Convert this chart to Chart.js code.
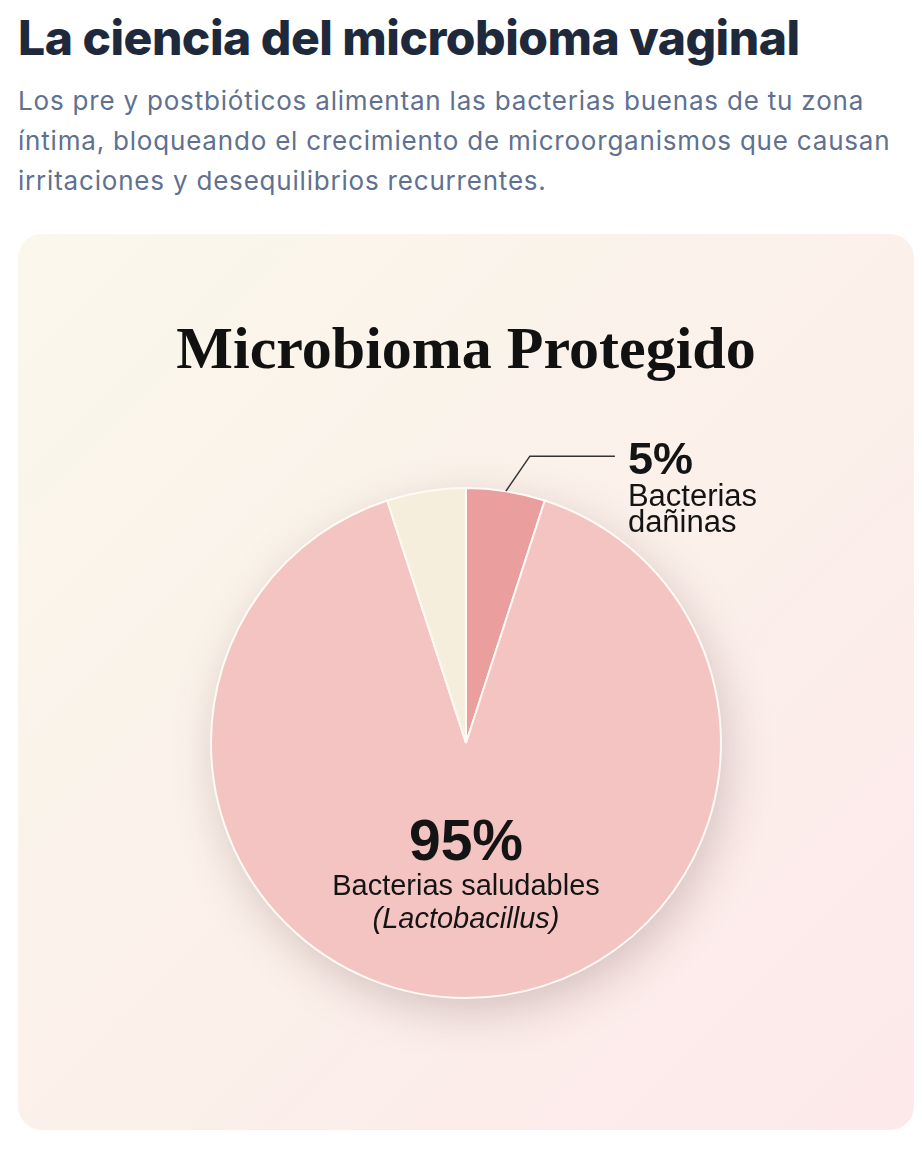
<!DOCTYPE html>
<html><head><meta charset="utf-8">
<script src="https://cdn.jsdelivr.net/npm/chart.js@4.4.1/dist/chart.umd.min.js"></script>
<style>
html,body{margin:0;padding:0;background:#fff;width:922px;height:1158px;overflow:hidden;}
h1{position:absolute;left:18px;top:10px;margin:0;font-family:Inter,sans-serif;font-weight:800;font-size:48px;line-height:56px;color:#1e293b;letter-spacing:-0.5px;white-space:nowrap;}
p.sub{position:absolute;left:18px;top:80.5px;margin:0;font-family:Inter,sans-serif;font-size:26px;line-height:40px;color:#607090;letter-spacing:0.8px;white-space:nowrap;}
#card{position:absolute;left:18px;top:234px;width:896px;height:896px;border-radius:24px;background:linear-gradient(135deg,#faf7ec 0%,#fbf1ea 50%,#fde8ea 100%);overflow:hidden;}
canvas{display:block}
</style></head>
<body>
<h1>La ciencia del microbioma vaginal</h1>
<p class="sub">Los pre y postbióticos alimentan las bacterias buenas de tu zona<br>íntima, bloqueando el crecimiento de microorganismos que causan<br>irritaciones y desequilibrios recurrentes.</p>
<div id="card"><canvas id="c" width="896" height="896"></canvas></div>
<script>
const chartTitle = 'Microbioma Protegido';
const categories = ['Bacterias dañinas', 'Bacterias saludables', 'Otros'];
const values = [5, 90, 5];
const pctLabels = ['5%', '95%'];
const labelLines = [['Bacterias', 'dañinas'], ['Bacterias saludables', '(Lactobacillus)']];
const sliceColors = ['#eb9e9e', '#f3c4c1', '#f6eedc'];

const pieShadow = {
  id: 'pieShadow',
  beforeDatasetsDraw(chart) {
    const arc = chart.getDatasetMeta(0).data[0];
    const ctx = chart.ctx;
    ctx.save();
    ctx.shadowColor = 'rgba(110,70,70,0.26)';
    ctx.shadowBlur = 45; ctx.shadowOffsetX = 6; ctx.shadowOffsetY = 14;
    ctx.fillStyle = sliceColors[1];
    ctx.beginPath(); ctx.arc(arc.x, arc.y, arc.outerRadius, 0, Math.PI * 2); ctx.fill();
    ctx.restore();
  }
};

const sliceLabels = {
  id: 'sliceLabels',
  afterDatasetsDraw(chart) {
    const ctx = chart.ctx;
    const meta = chart.getDatasetMeta(0);
    const a0 = meta.data[0];
    const m0 = (a0.startAngle + a0.endAngle) / 2;
    const r = a0.outerRadius;
    const px = a0.x + Math.cos(m0) * r, py = a0.y + Math.sin(m0) * r;
    const ex = px + 24, ey = py - 35, hx = ex + 85;
    ctx.save();
    ctx.strokeStyle = '#333'; ctx.lineWidth = 1.5;
    ctx.beginPath(); ctx.moveTo(px, py); ctx.lineTo(ex, ey); ctx.lineTo(hx, ey); ctx.stroke();
    ctx.fillStyle = '#141414'; ctx.textAlign = 'left'; ctx.textBaseline = 'alphabetic';
    const tx = hx + 13;
    ctx.font = 'bold 45px "Liberation Sans", Arial, sans-serif';
    ctx.fillText(pctLabels[0], tx, ey + 18);
    ctx.font = '31px "Liberation Sans", Arial, sans-serif';
    ctx.fillText(labelLines[0][0], tx, ey + 50);
    ctx.fillText(labelLines[0][1], tx, ey + 76);

    const a1 = meta.data[1];
    const m1 = (a1.startAngle + a1.endAngle) / 2;
    const cx = a1.x + Math.cos(m1) * r * 0.38, cy = a1.y + Math.sin(m1) * r * 0.38;
    ctx.textAlign = 'center';
    ctx.font = 'bold 57px "Liberation Sans", Arial, sans-serif';
    ctx.fillText(pctLabels[1], cx, cy + 20);
    ctx.font = '29px "Liberation Sans", Arial, sans-serif';
    ctx.fillText(labelLines[1][0], cx, cy + 55);
    ctx.font = 'italic 29px "Liberation Sans", Arial, sans-serif';
    ctx.fillText(labelLines[1][1], cx, cy + 88);
    ctx.restore();
  }
};

new Chart(document.getElementById('c'), {
  type: 'pie',
  data: { labels: categories, datasets: [{ data: values, backgroundColor: sliceColors, borderColor: '#fffaf6', borderWidth: 2 }] },
  options: {
    responsive: false, animation: false, rotation: 0,
    layout: { padding: { left: 0, right: 0, top: 0, bottom: 131 } },
    plugins: {
      legend: { display: false }, tooltip: { enabled: false },
      title: { display: true, text: chartTitle, color: '#111',
        font: { family: '"Liberation Serif", serif', size: 60, weight: 'bold', lineHeight: 1.2 },
        padding: { top: 82, bottom: 99 } }
    }
  },
  plugins: [pieShadow, sliceLabels]
});
</script>
</body></html>
